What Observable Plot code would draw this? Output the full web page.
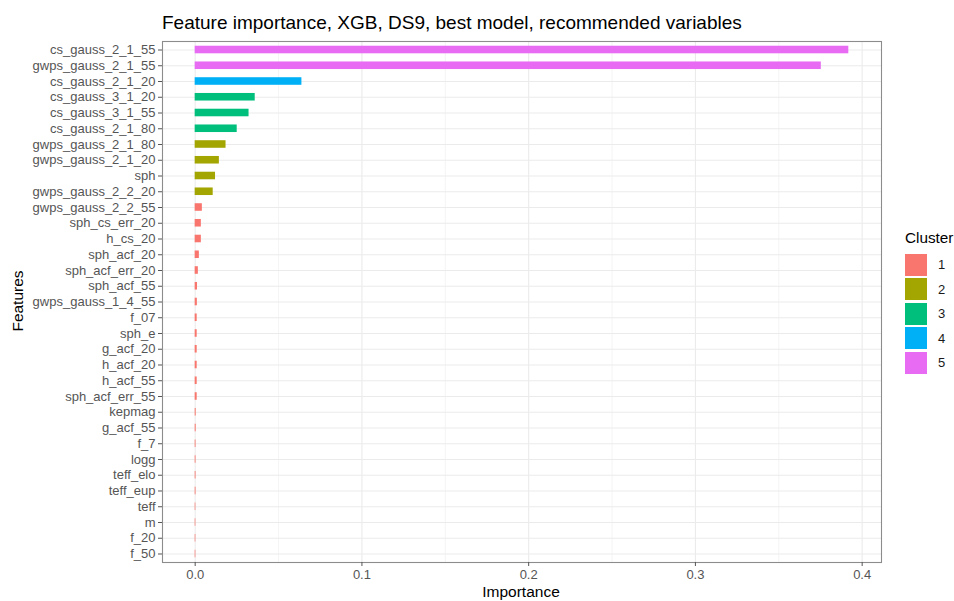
<!DOCTYPE html>
<html>
<head>
<meta charset="utf-8">
<script src="https://cdn.jsdelivr.net/npm/d3@7"></script>
<script src="https://cdn.jsdelivr.net/npm/@observablehq/plot@0.6"></script>
<style>
  html, body { margin: 0; padding: 0; background: #fff; }
  #wrap { position: relative; width: 954px; height: 601px; font-family: "Liberation Sans", Arial, sans-serif; }
  #wrap svg { position: absolute; left: 0; top: 0; }
  .abs { position: absolute; white-space: nowrap; line-height: 1; }
  #title { left: 162px; top: 13px; font-size: 19px; color: #000; }
  #xtitle { left: 0; width: 1042px; top: 584px; text-align: center; font-size: 15.5px; color: #000; }
  #ytitle { left: 18px; top: 301px; font-size: 15.5px; color: #000; transform: translate(-50%, -50%) rotate(-90deg); }
  #legend { left: 905px; top: 230px; }
  #legend .ltitle { font-size: 15.3px; color: #000; margin-bottom: 7px; line-height: 1; }
  #legend .row { display: flex; align-items: center; height: 24.5px; }
  #legend .key { width: 22px; height: 22px; }
  #legend .lab { margin-left: 11px; font-size: 13px; color: #1a1a1a; }
</style>
</head>
<body>
<div id="wrap">
  <div id="chart"></div>
  <div class="abs" id="title">Feature importance, XGB, DS9, best model, recommended variables</div>
  <div class="abs" id="xtitle">Importance</div>
  <div class="abs" id="ytitle">Features</div>
  <div class="abs" id="legend"></div>
</div>
<script>
// Features, most important first
const features = [
  "cs_gauss_2_1_55", "gwps_gauss_2_1_55", "cs_gauss_2_1_20", "cs_gauss_3_1_20",
  "cs_gauss_3_1_55", "cs_gauss_2_1_80", "gwps_gauss_2_1_80", "gwps_gauss_2_1_20",
  "sph", "gwps_gauss_2_2_20", "gwps_gauss_2_2_55", "sph_cs_err_20", "h_cs_20",
  "sph_acf_20", "sph_acf_err_20", "sph_acf_55", "gwps_gauss_1_4_55", "f_07",
  "sph_e", "g_acf_20", "h_acf_20", "h_acf_55", "sph_acf_err_55", "kepmag",
  "g_acf_55", "f_7", "logg", "teff_elo", "teff_eup", "teff", "m", "f_20", "f_50"
];

// Gain-based importance for each feature
const importance = [
  0.392, 0.3755, 0.0640, 0.0360,
  0.0323, 0.0252, 0.0185, 0.0145,
  0.0122, 0.0108, 0.0043, 0.0037, 0.0037,
  0.0025, 0.0019, 0.0014, 0.0013, 0.0012,
  0.0012, 0.0012, 0.0012, 0.0012, 0.0012, 0.0006,
  0.0006, 0.0005, 0.0005, 0.0005, 0.0005, 0.0004, 0.0004, 0.0004, 0.0004
];

// Cluster assignment of each feature
const cluster = [
  5, 5, 4, 3,
  3, 3, 2, 2,
  2, 2, 1, 1, 1,
  1, 1, 1, 1, 1,
  1, 1, 1, 1, 1, 1,
  1, 1, 1, 1, 1, 1, 1, 1, 1
];

const clusterLabels = ["1", "2", "3", "4", "5"];
const clusterColors = ["#F8766D", "#A3A500", "#00BF7D", "#00B0F6", "#E76BF3"];
const xTicks = [0, 0.1, 0.2, 0.3, 0.4];
const xMinor = [0.05, 0.15, 0.25, 0.35];

const rows = features.map((f, i) => ({ feature: f, importance: importance[i], cluster: String(cluster[i]) }));

const xMax = d3.max(importance);
const pad = xMax * 0.05;

const plot = Plot.plot({
  width: 954,
  height: 601,
  marginLeft: 162,
  marginRight: 73,
  marginTop: 41,
  marginBottom: 39,
  style: { fontFamily: "Liberation Sans, Arial, sans-serif", fontSize: "13px", color: "#555", background: "transparent" },
  x: { domain: [-pad, xMax + pad], label: null },
  y: { domain: features, paddingInner: 0.52, paddingOuter: 0.3, round: false, label: null },
  color: { domain: clusterLabels, range: clusterColors },
  marks: [
    Plot.gridX(xMinor, { stroke: "#ececec", strokeOpacity: 1, strokeWidth: 0.6 }),
    Plot.gridX(xTicks, { stroke: "#ebebeb", strokeOpacity: 1, strokeWidth: 1.1 }),
    Plot.gridY(features, { stroke: "#ebebeb", strokeOpacity: 1, strokeWidth: 1.1 }),
    Plot.barX(rows, { x: "importance", y: "feature", fill: "cluster" }),
    Plot.frame({ stroke: "#8c8c8c", strokeWidth: 1.1 }),
    Plot.axisX(xTicks, { tickSize: 4, tickPadding: 3, tickFormat: d3.format(".1f"), stroke: "#555", label: null }),
    Plot.axisY({ tickSize: 4, tickPadding: 3, stroke: "#555", label: null })
  ]
});
document.getElementById("chart").appendChild(plot);

// Legend built from the plot's own color scale
const colorScale = plot.scale("color");
const legend = document.getElementById("legend");
const t = document.createElement("div");
t.className = "ltitle";
t.textContent = "Cluster";
legend.appendChild(t);
colorScale.domain.forEach((d, i) => {
  const row = document.createElement("div");
  row.className = "row";
  const key = document.createElement("div");
  key.className = "key";
  key.style.background = colorScale.range[i];
  const lab = document.createElement("div");
  lab.className = "lab";
  lab.textContent = d;
  row.appendChild(key);
  row.appendChild(lab);
  legend.appendChild(row);
});
</script>
</body>
</html>
